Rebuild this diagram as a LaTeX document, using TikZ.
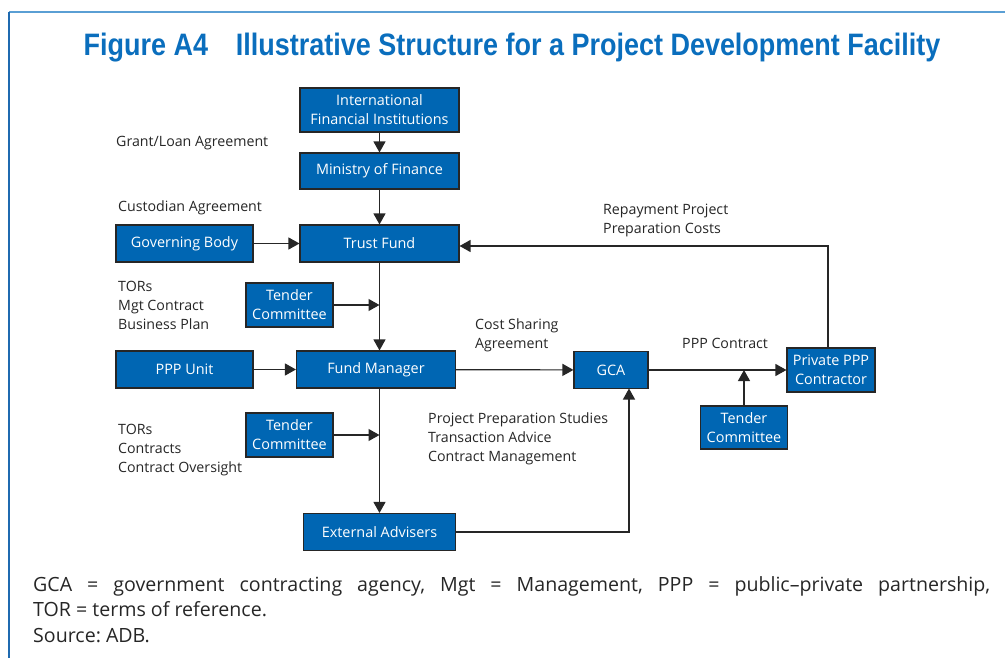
\documentclass[tikz,border=0pt]{standalone}
\usepackage{fontspec}
\setmainfont{Open Sans}
\newfontfamily\titlefont[FakeStretch=0.87]{Liberation Sans}
\usepackage{xcolor}
\usepackage{tikz}
\usetikzlibrary{arrows.meta,positioning}

\definecolor{boxblue}{HTML}{0066B3}
\definecolor{titleblue}{HTML}{0A6EBD}
\definecolor{rulelight}{HTML}{5A9FD4}
\definecolor{ruledark}{HTML}{1F6AB0}
\definecolor{edgegray}{HTML}{262626}

\begin{document}
\frenchspacing
\begin{tikzpicture}[x=1pt,y=-1pt,
    blk/.style={draw=edgegray, line width=1.1pt, fill=boxblue, text=white,
      align=center, inner sep=0pt, font=\fontsize{14.4}{19}\selectfont},
    lbl/.style={anchor=west, align=left, text=black!85,
      font=\fontsize{14.2}{19}\selectfont, inner sep=0pt},
    flow/.style={-{Triangle[length=11pt,width=12pt]}, line width=1.2pt, draw=edgegray}]
            \useasboundingbox (0,0) rectangle (1005,658);
            % frame
            \draw [rulelight, line width=2.6pt] (9,12) -- (1005,12);
            \draw [ruledark, line width=1.5pt] (9,12) -- (9,658);
            \node [text=titleblue, font=\titlefont\bfseries\fontsize{31}{36}\selectfont] (title) at (512,48)
              {Figure A4\hspace{0.9em}Illustrative Structure for a Project Development Facility};
            % boxes
            \node [blk, minimum width=159pt, minimum height=44pt] (ifi) at (379.5,110) {International\\Financial Institutions};
            \node [blk, minimum width=159pt, minimum height=36pt] (mof) at (379.5,171) {Ministry of Finance};
            \node [blk, minimum width=159pt, minimum height=37pt] (tf) at (379.5,243.5) {Trust Fund};
            \node [blk, minimum width=137pt, minimum height=37pt] (gb) at (184.5,243.5) {Governing Body};
            \node [blk, minimum width=87pt, minimum height=44pt] (tca) at (289.5,305) {Tender\\Committee};
            \node [blk, minimum width=137pt, minimum height=37pt] (ppu) at (184.5,369.5) {PPP Unit};
            \node [blk, minimum width=159pt, minimum height=37pt] (fm) at (376,369.5) {Fund Manager};
            \node [blk, minimum width=87pt, minimum height=44pt] (tcb) at (289.5,435) {Tender\\Committee};
            \node [blk, minimum width=152pt, minimum height=37pt] (ea) at (379.5,532) {External Advisers};
            \node [blk, minimum width=74pt, minimum height=37pt] (gca) at (611,370) {GCA};
            \node [blk, minimum width=88pt, minimum height=44pt] (ppc) at (831,370) {Private PPP\\Contractor};
            \node [blk, minimum width=87pt, minimum height=43pt] (tcc) at (744,427.5) {Tender\\Committee};
            % helper points
            \coordinate (eaup) at (629,388.5);
            \coordinate (back) at (828,246);
            % connectors
            \draw [flow] (ifi) -- (mof);
            \draw [flow] (mof) -- (tf);
            \draw [flow] (gb) -- (tf);
            \draw [flow] (ppc.north -| back) |- (tf.east |- back);
            \draw [flow] (tf.south) -- (tf.south |- fm.north);
            \draw [flow] (tca.east) -- (tf.south |- tca.east);
            \draw [flow] (ppu) -- (fm);
            \draw [flow] (tf.south |- fm.south) -- (tf.south |- ea.north);
            \draw [flow] (tcb.east) -- (tf.south |- tcb.east);
            \draw [flow] (fm) -- (gca);
            \draw [flow] (gca) -- (ppc);
            \draw [flow] (tcc.north) -- (tcc.north |- gca.east);
            \draw [flow] (ea.east) -| (eaup);
            % labels
            \node [lbl] (l1) at (116,143) {Grant/Loan Agreement};
            \node [lbl] (l2) at (118,208) {Custodian Agreement};
            \node [lbl] (l3) at (118,305) {TORs\\Mgt Contract\\Business Plan};
            \node [lbl] (l4) at (118,450) {TORs\\Contracts\\Contract Oversight};
            \node [lbl] (l5) at (603,220) {Repayment Project\\Preparation Costs};
            \node [lbl] (l6) at (475,335) {Cost Sharing\\Agreement};
            \node [lbl] (l7) at (682,343) {PPP Contract};
            \node [lbl] (l8) at (428,439) {Project Preparation Studies\\Transaction Advice\\Contract Management};
            % note
            \node [anchor=north west, text width=957pt, align=justify, inner sep=0pt, text=black!85,
              font=\fontsize{19.6}{25.5}\selectfont] (note) at (33,576)
              {GCA = government contracting agency, Mgt = Management, PPP = public–private partnership,\linebreak
               TOR = terms of reference.\\ Source: ADB.};
        \end{tikzpicture}
\end{document}
